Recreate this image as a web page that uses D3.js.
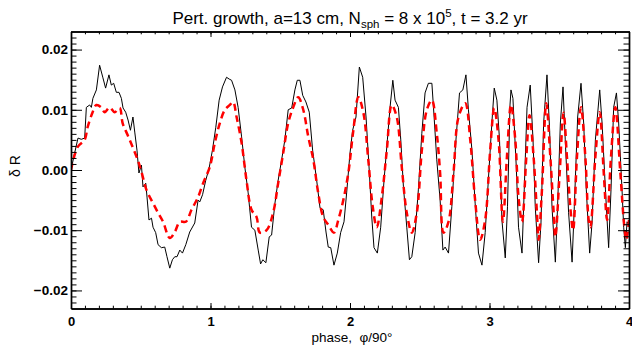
<!DOCTYPE html>
<html>
<head>
<meta charset="utf-8">
<script src="https://cdn.jsdelivr.net/npm/d3@7"></script>
<style>
  body { margin: 0; background: #fff; }
  text { font-family: "Liberation Sans", Arial, Helvetica, sans-serif; }
</style>
</head>
<body>
<div id="chart"></div>
<script>
// black solid curve (simulation)
var phaseSim = [0.000,0.026,0.050,0.074,0.098,0.110,0.134,0.146,0.157,0.182,0.205,0.229,0.248,0.272,0.289,0.306,0.325,0.344,0.361,0.373,
  0.392,0.409,0.426,0.444,0.457,0.473,0.487,0.505,0.516,0.536,0.545,0.559,0.577,0.588,0.607,0.624,0.648,0.672,0.688,0.708,
  0.727,0.744,0.760,0.780,0.799,0.823,0.851,0.887,0.911,0.923,0.943,0.966,0.990,1.014,1.038,1.062,1.086,1.115,1.134,1.151,
  1.175,1.198,1.223,1.246,1.270,1.294,1.318,1.342,1.359,1.375,1.397,1.421,1.438,1.462,1.485,1.510,1.533,1.557,1.582,1.605,
  1.622,1.641,1.661,1.684,1.708,1.732,1.761,1.785,1.808,1.828,1.844,1.862,1.885,1.909,1.933,1.957,1.976,2.000,2.019,2.043,
  2.067,2.091,2.115,2.139,2.156,2.172,2.196,2.220,2.244,2.268,2.287,2.307,2.323,2.347,2.364,2.383,2.407,2.426,2.443,2.467,
  2.490,2.515,2.538,2.562,2.587,2.603,2.622,2.646,2.666,2.682,2.706,2.730,2.754,2.785,2.809,2.831,2.849,2.874,2.897,2.921,
  2.946,2.969,2.993,3.017,3.034,3.053,3.072,3.089,3.113,3.129,3.147,3.154,3.168,3.192,3.208,3.233,3.249,3.269,3.292,3.312,
  3.328,3.352,3.369,3.388,3.412,3.431,3.448,3.472,3.488,3.508,3.527,3.543,3.567,3.592,3.608,3.632,3.656,3.675,3.694,3.718,
  3.735,3.759,3.790,3.807,3.831,3.854,3.871,3.890,3.910,3.926,3.950,3.962,3.974,3.986,4.000];
var dRSim = [0.0000,0.0028,0.0053,0.0051,0.0053,0.0104,0.0108,0.0104,0.0119,0.0133,0.0174,0.0153,0.0136,0.0158,0.0141,0.0144,0.0129,0.0129,0.0119,0.0103,
  0.0096,0.0083,0.0066,0.0088,0.0063,0.0033,-0.0005,0.0008,-0.0028,-0.0022,-0.0045,-0.0083,-0.0080,-0.0095,-0.0104,-0.0124,-0.0129,-0.0128,-0.0144,-0.0163,
  -0.0149,-0.0144,-0.0144,-0.0133,-0.0138,-0.0124,-0.0103,-0.0088,-0.0050,-0.0053,-0.0041,-0.0017,0.0003,0.0033,0.0071,0.0116,0.0138,0.0154,0.0151,0.0149,
  0.0133,0.0104,0.0055,0.0005,-0.0038,-0.0095,-0.0100,-0.0133,-0.0156,-0.0149,-0.0154,-0.0111,-0.0108,-0.0055,-0.0017,0.0017,0.0050,0.0100,0.0103,0.0133,
  0.0149,0.0149,0.0124,0.0113,0.0096,0.0033,-0.0017,-0.0063,-0.0066,-0.0103,-0.0128,-0.0129,-0.0158,-0.0138,-0.0104,-0.0086,-0.0038,0.0028,0.0066,0.0088,
  0.0171,0.0154,0.0088,-0.0005,-0.0078,-0.0129,-0.0138,-0.0095,-0.0017,0.0050,0.0104,0.0149,0.0116,0.0104,0.0050,-0.0028,-0.0095,-0.0149,-0.0144,-0.0104,
  -0.0033,0.0061,0.0128,0.0144,0.0144,0.0088,0.0017,-0.0050,-0.0133,-0.0128,-0.0138,-0.0061,0.0033,0.0128,0.0133,0.0158,0.0100,0.0033,-0.0055,-0.0138,
  -0.0158,-0.0104,-0.0012,0.0078,0.0136,0.0116,0.0050,-0.0083,-0.0146,-0.0061,0.0108,0.0133,0.0119,0.0005,-0.0095,-0.0138,-0.0033,0.0104,0.0141,0.0050,
  -0.0061,-0.0154,-0.0088,0.0078,0.0158,0.0066,-0.0061,-0.0153,-0.0061,0.0078,0.0138,0.0050,-0.0071,-0.0153,-0.0061,0.0088,0.0144,0.0078,-0.0033,-0.0138,
  -0.0088,0.0050,0.0133,0.0078,-0.0033,-0.0129,-0.0033,0.0104,0.0128,0.0078,-0.0033,-0.0095,-0.0129,-0.0086,-0.0092];

// red dashed curve (smooth model)
var phaseModel = [0.000,0.047,0.098,0.119,0.155,0.182,0.217,0.241,0.277,0.313,0.349,0.370,0.406,0.442,0.478,0.505,0.541,0.588,0.624,0.660,
  0.708,0.744,0.780,0.823,0.864,0.911,0.947,0.995,1.031,1.067,1.103,1.139,1.162,1.187,1.223,1.258,1.294,1.330,1.354,1.402,
  1.449,1.485,1.521,1.557,1.593,1.629,1.665,1.701,1.737,1.772,1.808,1.844,1.885,1.916,1.952,1.988,2.024,2.060,2.096,2.131,
  2.163,2.192,2.228,2.264,2.299,2.335,2.371,2.407,2.443,2.479,2.515,2.551,2.587,2.622,2.646,2.670,2.706,2.742,2.778,2.826,
  2.862,2.897,2.933,2.969,3.005,3.034,3.065,3.096,3.125,3.154,3.185,3.208,3.233,3.264,3.287,3.316,3.340,3.352,3.376,3.407,
  3.436,3.460,3.472,3.503,3.531,3.555,3.579,3.599,3.627,3.656,3.687,3.711,3.723,3.759,3.790,3.819,3.843,3.871,3.902,3.938,
  3.967,3.981,4.000];
var dRModel = [0.0000,0.0038,0.0050,0.0071,0.0096,0.0108,0.0104,0.0096,0.0104,0.0096,0.0103,0.0078,0.0058,0.0038,0.0017,-0.0003,-0.0033,-0.0055,-0.0071,-0.0086,
  -0.0113,-0.0103,-0.0086,-0.0086,-0.0066,-0.0045,-0.0022,0.0005,0.0045,0.0078,0.0100,0.0108,0.0113,0.0088,0.0045,-0.0017,-0.0066,-0.0078,-0.0104,-0.0100,
  -0.0071,-0.0022,0.0028,0.0078,0.0104,0.0121,0.0100,0.0055,0.0017,-0.0038,-0.0078,-0.0091,-0.0104,-0.0083,-0.0050,-0.0005,0.0066,0.0121,0.0095,0.0017,
  -0.0061,-0.0095,-0.0045,0.0033,0.0108,0.0088,0.0005,-0.0071,-0.0104,-0.0071,0.0033,0.0100,0.0116,0.0061,-0.0005,-0.0104,-0.0086,-0.0005,0.0088,0.0111,
  0.0050,-0.0050,-0.0116,-0.0083,0.0033,0.0103,0.0050,-0.0086,0.0022,0.0108,0.0050,-0.0045,-0.0086,0.0022,0.0091,0.0022,-0.0071,-0.0116,-0.0033,0.0111,
  0.0022,-0.0071,-0.0111,-0.0005,0.0095,0.0022,-0.0061,-0.0100,0.0022,0.0104,0.0022,-0.0083,-0.0095,0.0022,0.0096,-0.0005,-0.0083,0.0022,0.0104,-0.0005,
  -0.0095,-0.0116,-0.0083];

var xTicks = [0, 1, 2, 3, 4];
var yTicks = [-0.02, -0.01, 0.00, 0.01, 0.02];
var yTickLabels = ["\u22120.02", "\u22120.01", "0.00", "0.01", "0.02"];

var margin = {top: 31.5, right: 3, bottom: 36.5, left: 71};
var width = 632 - margin.left - margin.right;
var height = 345 - margin.top - margin.bottom;

var svg = d3.select("#chart")
    .append("svg")
    .attr("width", 632)
    .attr("height", 345)
    .style("background", "#fff");

var g = svg.append("g")
    .attr("transform", "translate(" + margin.left + "," + margin.top + ")");

var x = d3.scaleLinear().domain([0, 4]).range([0, width]);
var y = d3.scaleLinear().domain([-0.023, 0.023]).range([height, 0]);

// tick lengths like IDL: x ticks ~2% of plot height, y ticks ~2% of plot width
var xMajor = 5.5, xMinor = 2.8, yMajor = 11, yMinor = 5.5;
var xMinorVals = d3.range(0, 41).map(function(i) { return i / 10; });
var yMinorVals = d3.range(-22, 23).map(function(i) { return i / 1000; });

g.append("defs").append("clipPath").attr("id", "clip")
  .append("rect").attr("width", width).attr("height", height);

// lines
var simLine = d3.line()
    .x(function(d, i) { return x(phaseSim[i]); })
    .y(function(d) { return y(d); });

var modelLine = d3.line()
    .x(function(d, i) { return x(phaseModel[i]); })
    .y(function(d) { return y(d); })
    .curve(d3.curveCatmullRom.alpha(0.5));

g.append("path")
    .datum(dRSim)
    .attr("clip-path", "url(#clip)")
    .attr("d", simLine)
    .attr("fill", "none")
    .attr("stroke", "#000")
    .attr("stroke-width", 1);

g.append("path")
    .datum(dRModel)
    .attr("clip-path", "url(#clip)")
    .attr("d", modelLine)
    .attr("fill", "none")
    .attr("stroke", "#ff0000")
    .attr("stroke-width", 2.5)
    .attr("stroke-dasharray", "7,4.5");

// axes
function styleAxis(sel) {
  sel.selectAll("line").attr("stroke", "#000").attr("stroke-width", 1);
  sel.select(".domain").attr("stroke", "#000").attr("stroke-width", 1.4);
  sel.selectAll("text")
    .attr("fill", "#000")
    .style("font-family", '"Liberation Sans", Arial, sans-serif')
    .style("font-size", "13.5px")
    .style("font-weight", "bold");
}

// minor ticks
g.append("g").attr("transform", "translate(0," + height + ")")
  .call(d3.axisBottom(x).tickValues(xMinorVals).tickSize(-xMinor).tickSizeOuter(0).tickFormat(""))
  .call(styleAxis);
g.append("g")
  .call(d3.axisTop(x).tickValues(xMinorVals).tickSize(-xMinor).tickSizeOuter(0).tickFormat(""))
  .call(styleAxis);
g.append("g")
  .call(d3.axisLeft(y).tickValues(yMinorVals).tickSize(-yMinor).tickSizeOuter(0).tickFormat(""))
  .call(styleAxis);
g.append("g").attr("transform", "translate(" + width + ",0)")
  .call(d3.axisRight(y).tickValues(yMinorVals).tickSize(-yMinor).tickSizeOuter(0).tickFormat(""))
  .call(styleAxis);

// major ticks with labels
g.append("g").attr("transform", "translate(0," + height + ")")
  .call(d3.axisBottom(x).tickValues(xTicks).tickSize(-xMajor).tickSizeOuter(0).tickPadding(8).tickFormat(d3.format("d")))
  .call(styleAxis)
  .selectAll("text").style("font-size", "13px");
g.append("g")
  .call(d3.axisTop(x).tickValues(xTicks).tickSize(-xMajor).tickSizeOuter(0).tickFormat(""))
  .call(styleAxis);
g.append("g")
  .call(d3.axisLeft(y).tickValues(yTicks).tickSize(-yMajor).tickSizeOuter(0).tickPadding(3)
    .tickFormat(function(d, i) { return yTickLabels[i]; }))
  .call(styleAxis);
g.append("g").attr("transform", "translate(" + width + ",0)")
  .call(d3.axisRight(y).tickValues(yTicks).tickSize(-yMajor).tickSizeOuter(0).tickFormat(""))
  .call(styleAxis);

// title
var title = svg.append("text")
    .attr("x", margin.left + width / 2)
    .attr("y", 24)
    .attr("text-anchor", "middle")
    .style("font-size", "17px")
    .attr("fill", "#000");
title.append("tspan").text("Pert. growth, a=13 cm, N");
title.append("tspan").attr("dy", 4).style("font-size", "11.5px").text("sph");
title.append("tspan").attr("dy", -4).text(" = 8 x 10");
title.append("tspan").attr("dy", -7).style("font-size", "11.5px").text("5");
title.append("tspan").attr("dy", 7).text(", t = 3.2 yr");

// axis titles
svg.append("text")
    .attr("x", margin.left + width / 2 + 2)
    .attr("y", 342)
    .attr("text-anchor", "middle")
    .style("font-size", "13.5px")
    .text("phase,\u00a0\u00a0\u03c6/90\u00b0");

svg.append("text")
    .attr("transform", "translate(20," + (margin.top + height / 2 - 4) + ") rotate(-90)")
    .attr("text-anchor", "middle")
    .style("font-size", "14px")
    .text("\u03b4 R");
</script>
</body>
</html>
